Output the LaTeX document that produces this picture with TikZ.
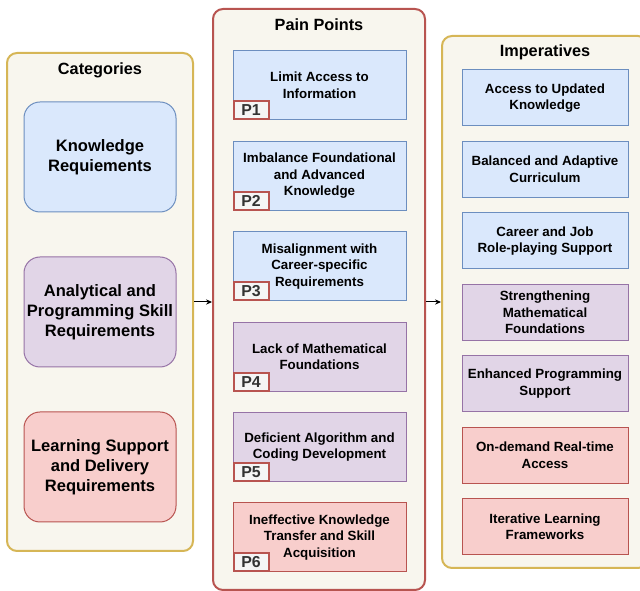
\documentclass[tikz,border=0pt]{standalone}
\usepackage{fontspec}
\setmainfont{Liberation Sans}
\usepackage{tikz}
\newcommand{\catwidth}{114pt}
\newcommand{\catheight}{82.5pt}
\newcommand{\painwidth}{129.75pt}
\newcommand{\painheight}{51.75pt}
\newcommand{\impwidth}{124.5pt}
\newcommand{\impheight}{42pt}
\definecolor{myBlue}{HTML}{DAE8FC}
\definecolor{myBlueLine}{HTML}{6C8EBF}
\definecolor{myPurple}{HTML}{E1D5E7}
\definecolor{myPurpleLine}{HTML}{9673A6}
\definecolor{myRed}{HTML}{F8CECC}
\definecolor{myRedLine}{HTML}{B85450}
\definecolor{myYellowLine}{HTML}{D6B656}
\definecolor{myBeige}{HTML}{F8F6EE}
\definecolor{myGray}{HTML}{F5F5F5}
\definecolor{myText}{HTML}{333333}
\usetikzlibrary{arrows.meta,calc,positioning}
\tikzset{
  >={Stealth[length=4.5pt,width=4pt]},
  x=0.75pt,y=-0.75pt,
  font=\bfseries,
  group/.style={draw,fill=myBeige,line width=1.5pt,rounded corners=7.5pt,inner sep=0},
  title/.style={font=\fontsize{12.2}{14.6}\selectfont\bfseries},
  cat/.style={draw,shape=rectangle,rounded corners=12pt,minimum width=\catwidth,minimum height=\catheight,inner xsep=0.5pt,align=center,line width=0.75pt,font=\fontsize{12.4}{15}\selectfont\bfseries},
  pain/.style={draw,shape=rectangle,minimum width=\painwidth,minimum height=\painheight,align=center,line width=0.75pt,font=\fontsize{10}{12.5}\selectfont\bfseries},
  imp/.style={draw,shape=rectangle,minimum width=\impwidth,minimum height=\impheight,align=center,line width=0.75pt,font=\fontsize{10}{12.5}\selectfont\bfseries},
  know/.style={fill=myBlue,draw=myBlueLine},
  prog/.style={fill=myPurple,draw=myPurpleLine},
  supp/.style={fill=myRed,draw=myRedLine},
  tag/.style={draw=myRedLine,fill=myGray,line width=1.5pt,minimum width=26.25pt,minimum height=13.5pt,inner sep=0,anchor=south west,text=myText,font=\fontsize{11.9}{13}\selectfont\bfseries},
  line/.style={draw,->,line width=0.75pt},
}
\begin{document}
\begin{tikzpicture}
  \useasboundingbox (0,0) rectangle (640,591);
  \node (cat) [group,draw=myYellowLine,minimum width=139.5pt,minimum height=373.5pt] at (100,302) {};
  \node (pain) [group,draw=myRedLine,minimum width=159pt,minimum height=435.75pt] at (319,299.5) {};
  \node (imp) [group,draw=myYellowLine,minimum width=154.5pt,minimum height=399pt] at (545,302) {};
  \node (cattitle) [title] at ($(cat.north)+(0,18)$) {Categories};
  \node (paintitle) [title] at ($(pain.north)+(0,17)$) {Pain Points};
  \node (imptitle) [title] at ($(imp.north)+(0,17)$) {Imperatives};

  \node (c1) [cat,know] at (100,157) {Knowledge\\Requiements};
  \node (c2) [cat,prog] at (100,312) {Analytical and\\Programming Skill\\Requirements};
  \node (c3) [cat,supp] at (100,467) {Learning Support\\and Delivery\\Requirements};

  \node (p1) [pain,know] at (319.5,85.5) {Limit Access to\\Information};
  \node (p2) [pain,know,below=15.3pt of p1] {Imbalance Foundational\\and Advanced\\Knowledge};
  \node (p3) [pain,know,below=15.3pt of p2] {Misalignment with\\Career-specific\\Requirements};
  \node (p4) [pain,prog,below=15.3pt of p3] {Lack of Mathematical\\Foundations};
  \node (p5) [pain,prog,below=15.3pt of p4] {Deficient Algorithm and\\Coding Development};
  \node (p6) [pain,supp,below=15.3pt of p5] {Ineffective Knowledge\\Transfer and Skill\\Acquisition};
  \foreach \i in {1,...,6}
    \node (t\i) [tag] at (p\i.south west) {P\i};

  \node (i1) [imp,know] at (545,98) {Access to Updated\\Knowledge};
  \node (i2) [imp,know,below=10.85pt of i1] {Balanced and Adaptive\\Curriculum};
  \node (i3) [imp,know,below=10.85pt of i2] {Career and Job\\Role-playing Support};
  \node (i4) [imp,prog,below=10.85pt of i3] {Strengthening\\Mathematical\\Foundations};
  \node (i5) [imp,prog,below=10.85pt of i4] {Enhanced Programming\\Support};
  \node (i6) [imp,supp,below=10.85pt of i5] {On-demand Real-time\\Access};
  \node (i7) [imp,supp,below=10.85pt of i6] {Iterative Learning\\Frameworks};

  \path [line] (cat.east) -- (cat.east -| pain.west);
  \path [line] (pain.east |- imp.west) -- (imp.west);
\end{tikzpicture}
\end{document}
